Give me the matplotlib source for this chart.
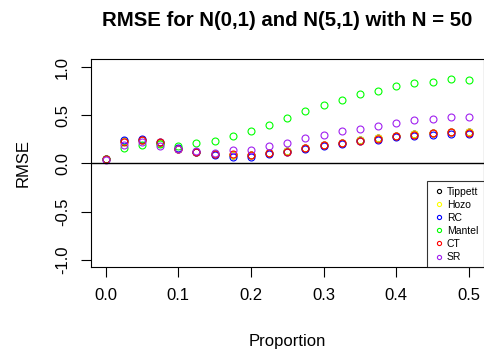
import matplotlib.pyplot as plt

plt.rcParams['font.family'] = ['Liberation Sans', 'DejaVu Sans']

proportion = [0.0, 0.025, 0.05, 0.075, 0.1, 0.125, 0.15, 0.175, 0.2, 0.225, 0.25,
              0.275, 0.3, 0.325, 0.35, 0.375, 0.4, 0.425, 0.45, 0.475, 0.5]

tippett = [0.05, 0.23, 0.24, 0.21, 0.15, 0.12, 0.10, 0.09, 0.09, 0.11, 0.13,
           0.16, 0.19, 0.21, 0.24, 0.26, 0.29, 0.31, 0.32, 0.33, 0.33]
hozo = [0.05, 0.23, 0.24, 0.21, 0.15, 0.12, 0.10, 0.09, 0.09, 0.11, 0.13,
        0.16, 0.19, 0.21, 0.24, 0.26, 0.29, 0.31, 0.32, 0.33, 0.33]
rc = [0.05, 0.24, 0.25, 0.22, 0.16, 0.12, 0.09, 0.07, 0.065, 0.10, 0.12,
      0.15, 0.18, 0.20, 0.23, 0.24, 0.27, 0.29, 0.30, 0.31, 0.31]
mantel = [0.05, 0.16, 0.19, 0.20, 0.18, 0.21, 0.23, 0.29, 0.34, 0.40, 0.47,
          0.54, 0.61, 0.66, 0.72, 0.75, 0.80, 0.84, 0.85, 0.88, 0.87]
ct = [0.05, 0.22, 0.24, 0.22, 0.15, 0.12, 0.10, 0.10, 0.09, 0.11, 0.12,
      0.16, 0.19, 0.21, 0.23, 0.25, 0.28, 0.30, 0.32, 0.33, 0.32]
sr = [0.04, 0.19, 0.22, 0.18, 0.15, 0.13, 0.11, 0.135, 0.14, 0.18, 0.21,
      0.26, 0.30, 0.335, 0.36, 0.39, 0.42, 0.45, 0.46, 0.48, 0.48]

methods = ["Tippett", "Hozo", "RC", "Mantel", "CT", "SR"]
colours = ["black", "#FFFF00", "#0000FF", "#00FF00", "#FF0000", "#A020F0"]
series = [tippett, hozo, rc, mantel, ct, sr]

fig = plt.figure(figsize=(4.84, 3.58), dpi=100)
ax = fig.add_axes([0.188, 0.253, 0.811, 0.581])

for name, col, vals in zip(methods, colours, series):
    ax.plot(proportion, vals, linestyle='none', marker='o', markersize=5,
            markerfacecolor='none', markeredgecolor=col, markeredgewidth=0.8,
            label=name)

ax.axhline(0, color='black', linewidth=1)

ax.set_xlim(-0.02, 0.52)
ax.set_ylim(-1.08, 1.08)
ax.set_xticks([0.0, 0.1, 0.2, 0.3, 0.4, 0.5])
ax.set_yticks([-1.0, -0.5, 0.0, 0.5, 1.0])
ax.set_xticklabels(["0.0", "0.1", "0.2", "0.3", "0.4", "0.5"])
ax.set_yticklabels(["-1.0", "-0.5", "0.0", "0.5", "1.0"], rotation=90, va='center')
ax.tick_params(direction='out', length=7, width=0.8, labelsize=12, pad=8)
for s in ax.spines.values():
    s.set_linewidth(0.8)

ax.set_xlabel("Proportion", fontsize=12, labelpad=22)
ax.set_ylabel("RMSE", fontsize=12, labelpad=18)
ax.set_title("RMSE for N(0,1) and N(5,1) with N = 50", fontsize=14.7,
             fontweight='bold', pad=24)

leg = ax.legend(loc='lower right', fontsize=7.5, frameon=True, fancybox=False,
                borderaxespad=0, handletextpad=0.2, handlelength=1.2,
                labelspacing=0.3, borderpad=0.5, markerscale=0.6)
leg.get_frame().set_edgecolor('black')
leg.get_frame().set_linewidth(0.8)

fig.savefig("out.png", dpi=100)
